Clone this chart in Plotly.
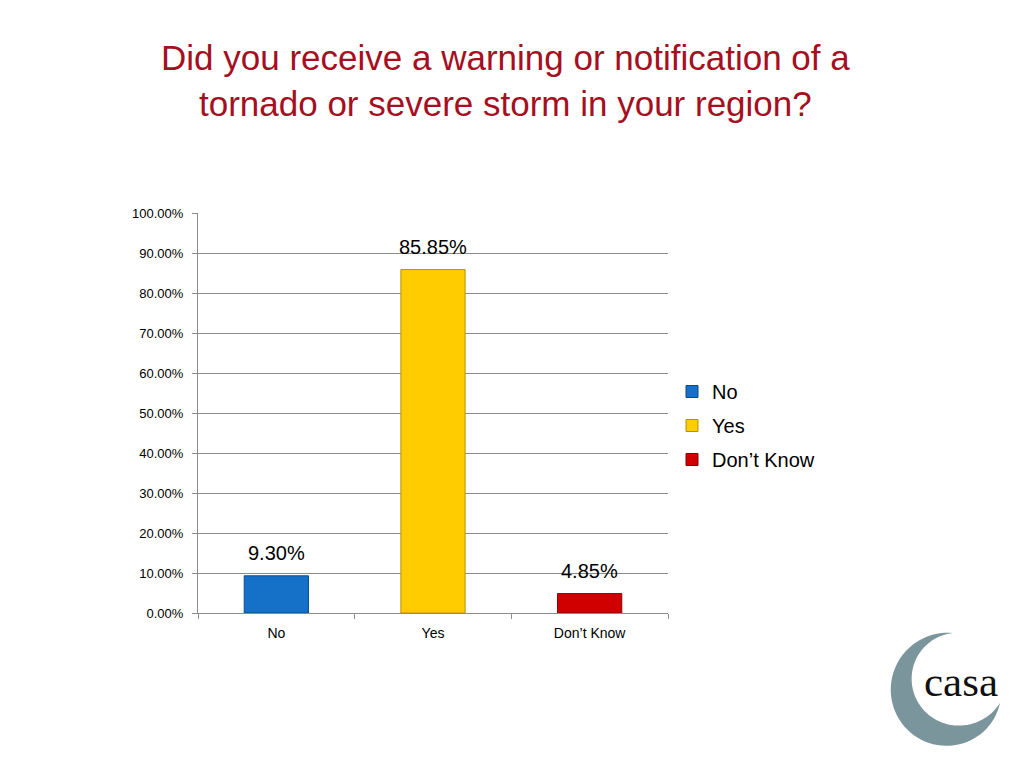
import math
import plotly.graph_objects as go

categories = ["No", "Yes", "Don’t Know"]
values = [9.30, 85.85, 4.85]
labels = ["9.30%", "85.85%", "4.85%"]
colors = ["#1570C8", "#FFCC00", "#D00000"]
borders = ["#0B4A8A", "#B8900A", "#8A0000"]
y_ticks = [0, 10, 20, 30, 40, 50, 60, 70, 80, 90, 100]
y_ticktext = [f"{v:.2f}%" for v in y_ticks]

FONT = "Arial, Liberation Sans, sans-serif"

# screen-space plot area (page has 8px body margin)
PX0, PX1, PY0, PY1 = 198, 668, 213, 613
OFF = 8


def px(x):
    return (x - PX0) / (PX1 - PX0)


def py(y):
    return (PY1 - y) / (PY1 - PY0)


fig = go.Figure()
for c, v, col, bc in zip(categories, values, colors, borders):
    fig.add_trace(go.Bar(
        x=[c], y=[v], name=c, legendgroup=c,
        marker=dict(color=col, line=dict(color=bc, width=1)),
        width=0.41, hoverinfo="skip",
    ))

for c, v, t in zip(categories, values, labels):
    fig.add_annotation(x=c, y=v, text=t, showarrow=False, yshift=23,
                       font=dict(family=FONT, size=20, color="#000000"),
                       xref="x", yref="y")

# Title
fig.add_annotation(
    text="Did you receive a warning or notification of a<br>tornado or severe storm in your region?",
    xref="paper", yref="paper", x=px(505), y=py(80),
    showarrow=False, xanchor="center", yanchor="middle",
    font=dict(family=FONT, size=35, color="#A50F21"),
)


# casa logo: crescent outline in screen pixels -> paper coords
def arc(cx, cy, a0, a1, r0, r1, bulge, n=60):
    pts = []
    for i in range(n + 1):
        s = i / n
        a = math.radians(a0 + (a1 - a0) * s)
        r = r0 + (r1 - r0) * s + bulge * math.sin(math.pi * s)
        pts.append((cx + r * math.cos(a), cy + r * math.sin(a)))
    return pts


T1 = (953, 633)
T2 = (1000, 703)
oc = (948, 690)
ic = (956, 679)


def ang(c, p):
    return math.degrees(math.atan2(p[1] - c[1], p[0] - c[0]))


def dist(c, p):
    return math.hypot(p[0] - c[0], p[1] - c[1])


oa0 = ang(oc, T1)
oa1 = ang(oc, T2) - 360
outer = arc(oc[0], oc[1], oa0, oa1, dist(oc, T1), dist(oc, T2), 1.5)
ia0 = ang(ic, T2)
ia1 = ang(ic, T1) + 360 if ang(ic, T1) < ia0 else ang(ic, T1)
inner = arc(ic[0], ic[1], ia0, ia1, dist(ic, T2), dist(ic, T1), -3.5)
pts = outer + inner
path = "M " + " L ".join(f"{px(x):.5f},{py(y):.5f}" for x, y in pts) + " Z"
fig.add_shape(type="path", path=path, xref="paper", yref="paper",
              fillcolor="#7B959C", line=dict(width=0), layer="above")
fig.add_annotation(text="casa", xref="paper", yref="paper",
                   x=px(961), y=py(681),
                   showarrow=False, xanchor="center", yanchor="middle",
                   font=dict(family="Liberation Serif, DejaVu Serif, serif", size=43, color="#111111"))

fig.update_layout(
    width=1024, height=768,
    margin=dict(l=PX0 - OFF, r=1024 - PX1 + OFF, t=PY0 - OFF, b=768 - PY1 + OFF),
    paper_bgcolor="white", plot_bgcolor="white",
    barmode="overlay",
    showlegend=True,
    legend=dict(x=px(672), y=py(372), xanchor="left", yanchor="top",
                font=dict(family=FONT, size=20, color="#000000"),
                tracegroupgap=5, itemwidth=30, bgcolor="rgba(0,0,0,0)"),
    font=dict(family=FONT, color="#000000"),
)
fig.update_xaxes(
    type="category", categoryorder="array", categoryarray=categories,
    showline=True, linecolor="#8C8C8C", linewidth=1,
    ticks="outside", tickson="boundaries", ticklen=5, tickcolor="#8C8C8C",
    ticklabelstandoff=7,
    tickfont=dict(family=FONT, size=14, color="#000000"),
    showgrid=False, range=[-0.5, 2.5],
)
fig.update_yaxes(
    range=[0, 100], tickvals=y_ticks, ticktext=y_ticktext,
    showline=True, linecolor="#8C8C8C", linewidth=1,
    ticks="outside", ticklen=5, tickcolor="#8C8C8C",
    showgrid=True, gridcolor="#8C8C8C", gridwidth=1,
    tickfont=dict(family=FONT, size=13, color="#000000"),
    ticklabelstandoff=6, zeroline=False,
)

fig.write_html("out.html")
